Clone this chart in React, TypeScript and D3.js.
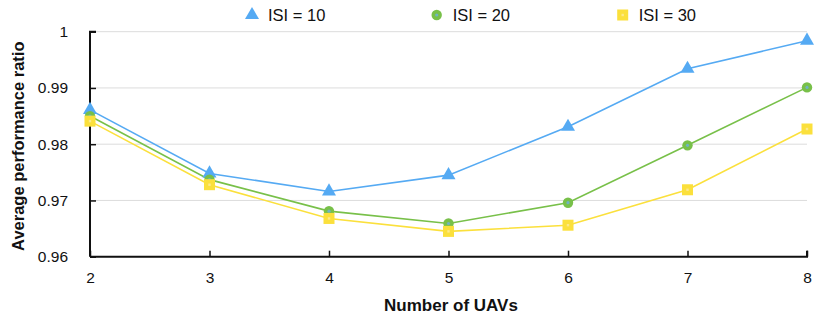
import React, { useRef, useEffect } from "react";
import * as d3 from "d3";

const uavCounts = [2, 3, 4, 5, 6, 7, 8];
const isi10 = [0.9861, 0.9748, 0.9716, 0.9745, 0.9831, 0.9934, 0.9984];
const isi20 = [0.985, 0.9737, 0.9681, 0.9659, 0.9696, 0.9798, 0.9901];
const isi30 = [0.9841, 0.9728, 0.9668, 0.9645, 0.9656, 0.9719, 0.9827];
const yTicks = [0.96, 0.97, 0.98, 0.99, 1];

const seriesList = [
  { name: "ISI = 10", values: isi10, color: "#55aaf3", marker: "triangle" },
  { name: "ISI = 20", values: isi20, color: "#78c049", marker: "circle" },
  { name: "ISI = 30", values: isi30, color: "#fbe03c", marker: "square" },
];

const W = 814;
const H = 317;
const font = "'Liberation Sans', Arial, Helvetica, sans-serif";

const drawMarker = (g, type, x, y, color) => {
  if (type === "triangle") {
    g.append("path")
      .attr("d", d3.symbol(d3.symbolTriangle, 85)())
      .attr("transform", `translate(${x},${y})`)
      .attr("fill", color);
  } else if (type === "circle") {
    g.append("circle").attr("cx", x).attr("cy", y).attr("r", 5.2).attr("fill", color);
    g.append("circle").attr("cx", x).attr("cy", y).attr("r", 1.6).attr("fill", "#6fb3c4");
  } else {
    g.append("rect")
      .attr("x", x - 5.5)
      .attr("y", y - 5.5)
      .attr("width", 11)
      .attr("height", 11)
      .attr("fill", color);
    g.append("rect")
      .attr("x", x - 1.2)
      .attr("y", y - 1.2)
      .attr("width", 2.4)
      .attr("height", 2.4)
      .attr("fill", "#fde98a");
  }
};

const App = () => {
  const svgRef = useRef(null);

  useEffect(() => {
    const svg = d3.select(svgRef.current);
    svg.selectAll("*").remove();

    const left = 90;
    const right = 807;
    const top = 31.7;
    const bottom = 256.7;

    const x = d3.scaleLinear().domain([2, 8]).range([left, right]);
    const y = d3.scaleLinear().domain([0.96, 1]).range([bottom, top]);

    // gridlines
    svg
      .append("g")
      .selectAll("line")
      .data(yTicks.filter((t) => t > 0.96))
      .enter()
      .append("line")
      .attr("x1", left)
      .attr("x2", right)
      .attr("y1", (d) => y(d))
      .attr("y2", (d) => y(d))
      .attr("stroke", "#dcdcdc")
      .attr("stroke-width", 1);

    // y axis
    const yAxis = svg
      .append("g")
      .attr("transform", `translate(${left},0)`)
      .call(
        d3.axisRight(y).tickValues(yTicks).tickSize(6).tickFormat((d) => `${+d}`)
      );
    yAxis.select(".domain").attr("stroke", "#111").attr("stroke-width", 2).attr("d", `M6,${top}H0V${bottom}`);
    yAxis.selectAll(".tick line").attr("stroke", "#111").attr("stroke-width", 1.5);
    yAxis
      .selectAll(".tick text")
      .attr("x", -22)
      .attr("text-anchor", "end")
      .attr("font-family", font)
      .attr("font-size", 15.5)
      .attr("fill", "#111");

    // x axis
    const xAxis = svg
      .append("g")
      .attr("transform", `translate(0,${bottom})`)
      .call(d3.axisTop(x).tickValues(uavCounts).tickSize(6).tickFormat(d3.format("d")));
    xAxis.select(".domain").attr("stroke", "#111").attr("stroke-width", 2).attr("d", `M${left},0H${right}V-6`);
    xAxis.selectAll(".tick line").attr("stroke", "#111").attr("stroke-width", 1.5);
    xAxis
      .selectAll(".tick text")
      .attr("y", 26)
      .attr("font-family", font)
      .attr("font-size", 15.5)
      .attr("fill", "#111");

    const line = d3
      .line()
      .x((d, i) => x(uavCounts[i]))
      .y((d) => y(d));

    seriesList.forEach((s) => {
      svg
        .append("path")
        .datum(s.values)
        .attr("d", line)
        .attr("fill", "none")
        .attr("stroke", s.color)
        .attr("stroke-width", 1.6);
    });
    seriesList.forEach((s) => {
      const g = svg.append("g");
      s.values.forEach((v, i) => drawMarker(g, s.marker, x(uavCounts[i]), y(v), s.color));
    });

    // legend
    const legendX = [252, 436.7, 622.7];
    seriesList.forEach((s, i) => {
      const g = svg.append("g");
      drawMarker(g, s.marker, legendX[i], 15, s.color);
      g.append("text")
        .attr("x", legendX[i] + 16)
        .attr("y", 21)
        .attr("font-family", font)
        .attr("font-size", 16.5)
        .attr("fill", "#111")
        .text(s.name);
    });

    // axis titles
    svg
      .append("text")
      .attr("x", 451)
      .attr("y", 311)
      .attr("text-anchor", "middle")
      .attr("font-family", font)
      .attr("font-weight", "bold")
      .attr("font-size", 17)
      .attr("fill", "#111")
      .text("Number of UAVs");

    svg
      .append("text")
      .attr("transform", `translate(24,${(top + bottom) / 2 + 2}) rotate(-90)`)
      .attr("text-anchor", "middle")
      .attr("font-family", font)
      .attr("font-weight", "bold")
      .attr("font-size", 16.5)
      .attr("fill", "#111")
      .text("Average performance ratio");
  }, []);

  return (
    <svg
      ref={svgRef}
      width={W}
      height={H}
      style={{ position: "absolute", left: 0, top: 0, background: "#fff" }}
    ></svg>
  );
};

export default App;
